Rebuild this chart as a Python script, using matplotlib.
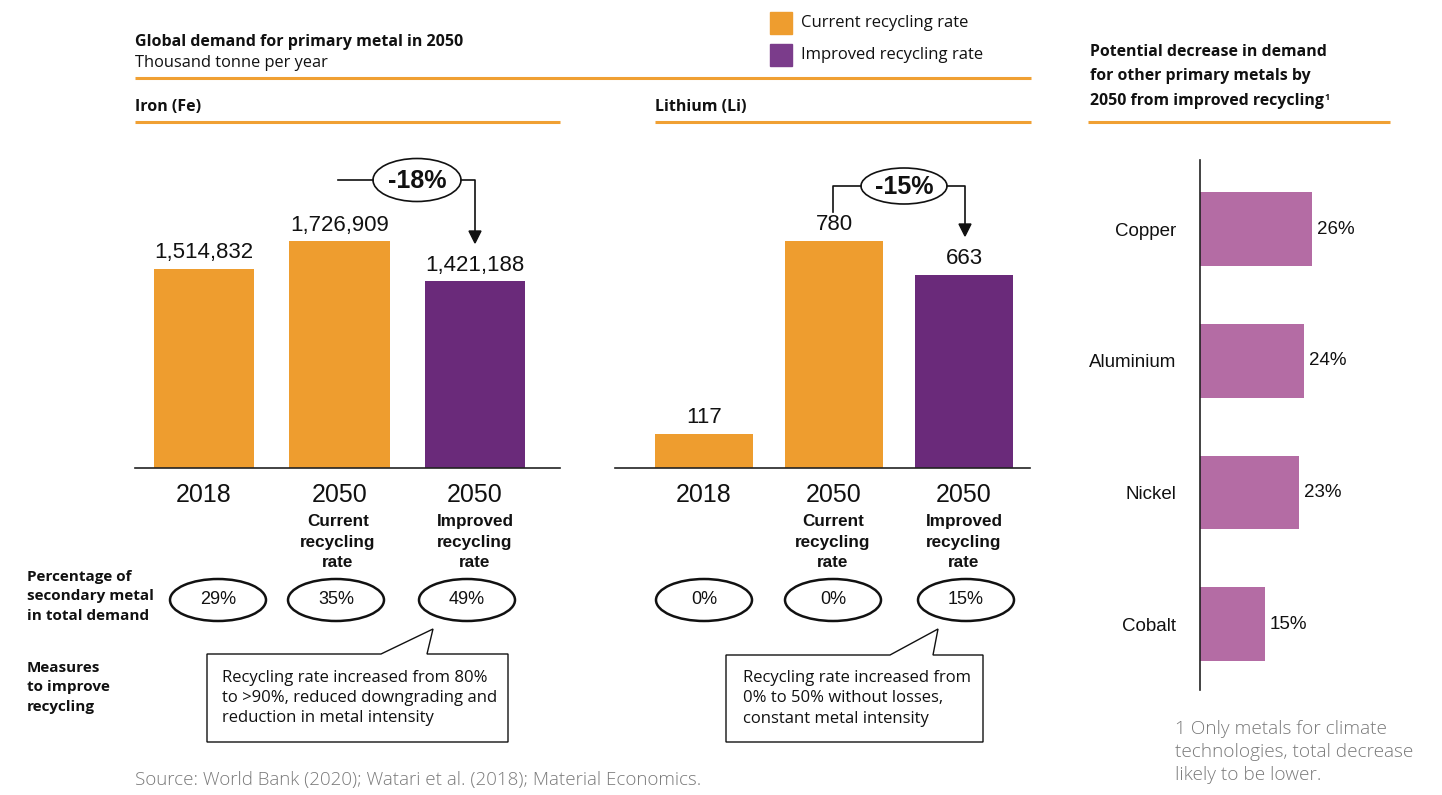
import matplotlib
matplotlib.use('Agg')
import matplotlib.pyplot as plt
from matplotlib.patches import Ellipse, Polygon, Rectangle
import numpy as np

# demand for primary metal, thousand tonne per year
iron_cats = ['2018', '2050', '2050']
iron_vals = [1514832, 1726909, 1421188]
lith_cats = ['2018', '2050', '2050']
lith_vals = [117, 780, 663]
scenario_sub = ['', 'Current\nrecycling\nrate', 'Improved\nrecycling\nrate']

iron_secondary = ['29%', '35%', '49%']
lith_secondary = ['0%', '0%', '15%']
iron_change = '-18%'
lith_change = '-15%'

other_metals = ['Copper', 'Aluminium', 'Nickel', 'Cobalt']
other_decrease = [26, 24, 23, 15]

iron_note = 'Recycling rate increased from 80%\nto >90%, reduced downgrading and\nreduction in metal intensity'
lith_note = 'Recycling rate increased from\n0% to 50% without losses,\nconstant metal intensity'

ORANGE = '#EE9D2F'
PURPLE = '#6A2A7A'
PINK = '#B46CA4'
LINE = '#F0A033'
GREY = '#7a7a7a'
bar_colors = [ORANGE, ORANGE, PURPLE]

TITLE = 'Open Sans'
ARIAL = 'Liberation Sans'

W, H = 1442, 795
fig = plt.figure(figsize=(W / 100, H / 100), dpi=100, facecolor='white')


def px_axes(x0, y0, x1, y1):
    # axes placed by pixel box (top-left origin)
    return fig.add_axes([x0 / W, 1 - y1 / H, (x1 - x0) / W, (y1 - y0) / H])


def bar_panel(ax, cats, vals, xlim, ymax, width):
    x = np.arange(len(vals))
    ax.bar(x, vals, width=width, color=bar_colors, zorder=2)
    for xi, v in zip(x, vals):
        ax.annotate(f'{v:,}', (xi, v), xytext=(0, 4), textcoords='offset points',
                    ha='center', va='bottom', fontsize=16, family=ARIAL, color='#111111')
    ax.set_xlim(*xlim)
    ax.set_ylim(0, ymax)
    ax.set_xticks(x)
    ax.set_xticklabels(cats, fontsize=18, family=ARIAL, color='#111111')
    ax.tick_params(axis='x', length=0, pad=11)
    ax.set_yticks([])
    for s in ['top', 'right', 'left']:
        ax.spines[s].set_visible(False)
    ax.spines['bottom'].set_color('#222222')
    ax.spines['bottom'].set_linewidth(1.2)
    ax.set_facecolor('none')


ax_fe = px_axes(135, 140, 560, 468)
bar_panel(ax_fe, iron_cats, iron_vals, (-0.509, 2.627), 2.4967e6, 0.74)

ax_li = px_axes(615, 140, 1030, 468)
bar_panel(ax_li, lith_cats, lith_vals, (-0.685, 2.508), 1127, 0.754)

# right panel: horizontal bars
ax_o = px_axes(1200, 160, 1420, 690)
yy = np.arange(len(other_metals))
ax_o.barh(yy, other_decrease, height=0.56, color=PINK)
for yi, v in zip(yy, other_decrease):
    ax_o.text(v + 1.2, yi, f'{v}%', va='center', ha='left', fontsize=13.5,
              family=ARIAL, color='#111111')
ax_o.set_xlim(0, 51)
ax_o.set_ylim(3.50, -0.524)
ax_o.set_yticks(yy)
ax_o.set_yticklabels(other_metals, fontsize=13.5, family=ARIAL, color='#111111')
ax_o.tick_params(axis='y', length=0, pad=17)
ax_o.set_xticks([])
for s in ['top', 'right', 'bottom']:
    ax_o.spines[s].set_visible(False)
ax_o.spines['left'].set_color('#222222')
ax_o.spines['left'].set_linewidth(1.2)

# overlay in pixel coordinates for titles, rules and callouts
ov = fig.add_axes([0, 0, 1, 1], zorder=5)
ov.set_xlim(0, W)
ov.set_ylim(H, 0)
ov.axis('off')
ov.patch.set_alpha(0)

ov.text(135, 42, 'Global demand for primary metal in 2050', fontsize=11.5, family=TITLE,
        weight='bold', va='center', color='#111111')
ov.text(135, 63, 'Thousand tonne per year', fontsize=11.8, family=TITLE, va='center', color='#111111')
ov.plot([135, 1031], [78, 78], color=LINE, lw=2.2, solid_capstyle='butt')
ov.text(135, 107, 'Iron (Fe)', fontsize=11.5, family=TITLE, weight='bold', va='center', color='#111111')
ov.plot([135, 560], [122, 122], color=LINE, lw=2.2, solid_capstyle='butt')
ov.text(655, 107, 'Lithium (Li)', fontsize=11.5, family=TITLE, weight='bold', va='center', color='#111111')
ov.plot([655, 1031], [122, 122], color=LINE, lw=2.2, solid_capstyle='butt')

# legend
ov.add_patch(Rectangle((770, 12), 22, 22, color=ORANGE))
ov.add_patch(Rectangle((770, 44), 22, 22, color='#7B3C8B'))
ov.text(801, 23, 'Current recycling rate', fontsize=12, family=TITLE, va='center', color='#111111')
ov.text(801, 55, 'Improved recycling rate', fontsize=12, family=TITLE, va='center', color='#111111')

ov.text(1090, 52, 'Potential decrease in demand', fontsize=11.4, family=TITLE, weight='bold',
        va='center', color='#111111')
ov.text(1090, 76, 'for other primary metals by', fontsize=11.4, family=TITLE, weight='bold',
        va='center', color='#111111')
t_last = ov.text(1090, 101, '2050 from improved recycling', fontsize=11.4, family=TITLE,
                 weight='bold', va='center', color='#111111')
ov.plot([1088, 1390], [122, 122], color=LINE, lw=2.2, solid_capstyle='butt')

# footnote marker right after the last title line
fig.canvas.draw()
bb = t_last.get_window_extent()
ov.text(bb.x1 / fig.dpi * 100 + 1, 97, '1', fontsize=6.5, family=TITLE, weight='bold',
        va='center', color='#111111')

# scenario sub-labels under the year
for cx, sub in zip([338, 475, 833, 964], scenario_sub[1:] * 2):
    ov.text(cx, 542, sub, fontsize=12.3, family=ARIAL, weight='bold', ha='center', va='center',
            linespacing=1.42, color='#111111')


# change badges with arrows
def change_badge(cx, cy, w, h, label, left, right_x, tip_y, left_drop=None):
    ov.add_patch(Ellipse((cx, cy), w, h, fill=False, ec='#111111', lw=1.2))
    ov.text(cx, cy + 1, label, fontsize=18, family=ARIAL, weight='bold', ha='center',
            va='center', color='#111111')
    if left_drop is None:
        ov.plot([left, cx - w / 2], [cy, cy], color='#111111', lw=1.2)
    else:
        ov.plot([left, left, cx - w / 2], [left_drop, cy, cy], color='#111111', lw=1.2)
    ov.plot([cx + w / 2, right_x, right_x], [cy, cy, tip_y - 10], color='#111111', lw=1.2)
    ov.add_patch(Polygon([[right_x - 6, tip_y - 12], [right_x + 6, tip_y - 12], [right_x, tip_y]],
                         closed=True, color='#111111'))


change_badge(417, 180, 88, 43, iron_change, 338, 475, 243)
change_badge(904, 186, 86, 36, lith_change, 833, 965, 236, left_drop=212)

# secondary metal share ellipses
ov.text(27, 596, 'Percentage of\nsecondary metal\nin total demand', fontsize=11, family=TITLE,
        weight='bold', va='center', linespacing=1.5, color='#111111')
ov.text(27, 687, 'Measures\nto improve\nrecycling', fontsize=11, family=TITLE, weight='bold',
        va='center', linespacing=1.5, color='#111111')
for cx, t in zip([218, 336, 467], iron_secondary):
    ov.add_patch(Ellipse((cx, 600), 96, 42, fill=False, ec='#111111', lw=1.8))
    ov.text(cx, 600, t, fontsize=13, family=ARIAL, ha='center', va='center', color='#111111')
for cx, t in zip([704, 833, 966], lith_secondary):
    ov.add_patch(Ellipse((cx, 600), 96, 42, fill=False, ec='#111111', lw=1.8))
    ov.text(cx, 600, t, fontsize=13, family=ARIAL, ha='center', va='center', color='#111111')


def callout(x0, x1, y0, y1, b0, b1, tip, note, pad):
    pts = [[x0, y0], [b0, y0], tip, [b1, y0], [x1, y0], [x1, y1], [x0, y1]]
    ov.add_patch(Polygon(pts, closed=True, fc='white', ec='#111111', lw=1.0))
    ov.text(x0 + pad, (y0 + y1) / 2, note, fontsize=12.0, family=TITLE, va='center',
            linespacing=1.36, color='#111111')


callout(207, 508, 654, 742, 381, 427, (433, 629), iron_note, 15)
callout(726, 983, 655, 742, 890, 933, (938, 629), lith_note, 17)

ov.text(135, 780, 'Source: World Bank (2020); Watari et al. (2018); Material Economics.',
        fontsize=13.5, family=TITLE, weight='light', va='center', color=GREY)
ov.text(1175, 752, '1 Only metals for climate\ntechnologies, total decrease\nlikely to be lower.',
        fontsize=13.7, family=TITLE, weight='light', va='center', linespacing=1.36, color=GREY)

fig.savefig('out.png', dpi=100, facecolor='white')
